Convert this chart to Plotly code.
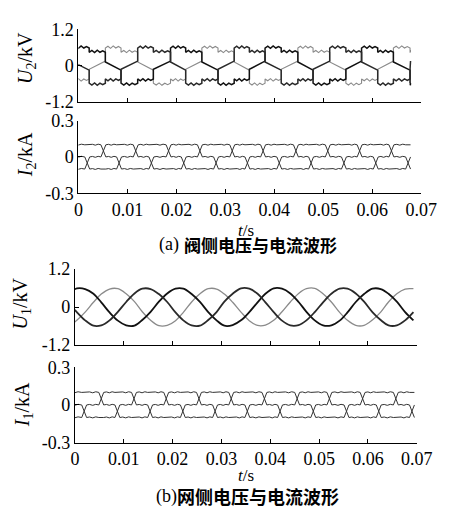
import plotly.graph_objects as go

# ---------------- values ----------------
x_ticks = [0, 0.01, 0.02, 0.03, 0.04, 0.05, 0.06, 0.07]
x_tick_labels = ["0", "0.01", "0.02", "0.03", "0.04", "0.05", "0.06", "0.07"]
u_ticks = [-1.2, 0, 1.2]
u_tick_labels = ["-1.2", "0", "1.2"]
i_ticks = [-0.3, 0, 0.3]
i_tick_labels = ["-0.3", "0", "0.3"]

# grid-side phase voltages U1 (kV), sampled along the curves
u1_t = [0.0, 0.0004, 0.0021, 0.0038, 0.0054, 0.0071, 0.0088, 0.0105, 0.0122, 0.0138, 0.0155,
        0.0172, 0.0189, 0.0206, 0.0222, 0.0239, 0.0256, 0.0273, 0.0290, 0.0306, 0.0323, 0.0340,
        0.0357, 0.0374, 0.0390, 0.0407, 0.0424, 0.0441, 0.0458, 0.0474, 0.0491, 0.0508, 0.0525,
        0.0542, 0.0558, 0.0575, 0.0592, 0.0609, 0.0626, 0.0642, 0.0659, 0.0676, 0.0693]
u1_a = [0.56,
        0.59, 0.57, 0.42, 0.15, -0.17, -0.43, -0.58, -0.59, -0.41, -0.15, 0.17, 0.43,
        0.58, 0.58, 0.41, 0.16, -0.16, -0.42, -0.59, -0.57, -0.42, -0.16, 0.15, 0.42,
        0.59, 0.58, 0.43, 0.16, -0.15, -0.42, -0.58, -0.58, -0.43, -0.17, 0.16, 0.41,
        0.58, 0.57, 0.42, 0.17, -0.16, -0.42]
u1_b = [-0.47,
        -0.42, -0.16, 0.15, 0.41, 0.57, 0.58, 0.42, 0.17, -0.15, -0.42, -0.59, -0.58,
        -0.43, -0.17, 0.16, 0.42, 0.58, 0.57, 0.41, 0.15, -0.16, -0.43, -0.58, -0.57,
        -0.42, -0.15, 0.16, 0.43, 0.58, 0.59, 0.42, 0.16, -0.17, -0.42, -0.58, -0.58,
        -0.41, -0.16, 0.16, 0.42, 0.57, 0.58]
u1_c = [-0.09,
        -0.16, -0.42, -0.59, -0.58, -0.42, -0.15, 0.16, 0.43, 0.58, 0.57, 0.41, 0.16,
        -0.17, -0.42, -0.58, -0.59, -0.41, -0.16, 0.17, 0.42, 0.59, 0.58, 0.42, 0.15,
        -0.16, -0.43, -0.58, -0.57, -0.42, -0.16, 0.15, 0.42, 0.58, 0.58, 0.43, 0.17,
        -0.16, -0.41, -0.58, -0.58, -0.42, -0.16]

# commutation instants (s), read at the X crossings of the current traces
i2_switch_t = [0.0018, 0.0051, 0.0083, 0.0117, 0.0149, 0.0184, 0.0215, 0.0248, 0.0281, 0.0314,
               0.0345, 0.0377, 0.0410, 0.0444, 0.0475, 0.0509, 0.0542, 0.0574, 0.0607, 0.0639,
               0.0673]
i2_end = 0.0678
i1_switch_t = [0.0019, 0.0054, 0.0087, 0.0121, 0.0154, 0.0187, 0.0221, 0.0254, 0.0287, 0.0320,
               0.0353, 0.0388, 0.0420, 0.0455, 0.0488, 0.0521, 0.0556, 0.0589, 0.0622, 0.0657,
               0.0690]
i1_end = 0.0694

# current block level (kA), half width of the X ramps (s), wiggle on the flats (kA)
i_level = 0.1
i_ramp = 0.0005
i_ripple = [0.004, -0.003, 0.005]

# valve-side voltage U2 levels (kV)
u2_hi = 0.58
u2_lo = 0.44
u2_float = [0.12, -0.15]
u2_ripple = [0.06, -0.01, 0.07, 0.0, 0.05]
u2_lag = 0.0004

# state of phase a in successive 60-degree sectors (b, c follow 2 and 4 sectors later)
sector_state = ["+hi", "+lo", "f", "-hi", "-lo", "r"]

# ---------------- building the traces ----------------
W, H = 450, 517


def bounds_from(switch_t, t_end, lag=0.0):
    s = [t + lag for t in switch_t]
    return [s[0] - (s[1] - s[0])] + s + [t_end]


def build_current(switch_t, t_end, shift):
    b = bounds_from(switch_t, t_end)
    n = len(b) - 1
    lv = {"+hi": i_level, "+lo": i_level, "-hi": -i_level, "-lo": -i_level, "f": 0.0, "r": 0.0}
    xs, ys = [], []
    for k in range(n):
        L = lv[sector_state[(k - shift) % 6]]
        a0 = b[k] + (i_ramp if k > 0 else 0)
        a1 = b[k + 1] - (i_ramp if k < n - 1 else 0)
        xs.append(a0); ys.append(L)
        if a1 > a0:
            for f, d in zip([0.25, 0.5, 0.75], i_ripple):
                xs.append(a0 + (a1 - a0) * f); ys.append(L + d)
            xs.append(a1); ys.append(L)
    return xs, ys


def build_u2(shift):
    b = bounds_from(i2_switch_t, i2_end, u2_lag)
    n = len(b) - 1
    xs, ys = [], []
    for k in range(n):
        st = sector_state[(k - shift) % 6]
        t0, t1 = b[k], b[k + 1]
        if st in ("f", "r"):
            sg = 1 if st == "f" else -1
            xs += [t0, t1]
            ys += [sg * u2_float[0], sg * u2_float[1]]
        else:
            sg = 1 if st[0] == "+" else -1
            L = sg * (u2_hi if st[1:] == "hi" else u2_lo)
            xs.append(t0); ys.append(L)
            fr = [1 / 6, 2 / 6, 3 / 6, 4 / 6, 5 / 6]
            for f, d in zip(fr, u2_ripple):
                xs.append(t0 + (t1 - t0) * f); ys.append(L + sg * d)
            xs.append(t1); ys.append(L)
    return xs, ys


BLACK = "#111111"
DARK = "#2a2a2a"
GRAY = "#8a8a8a"
CUR = "#333333"

fig = go.Figure()


def add(x, y, ax, color, width, shape="linear"):
    fig.add_trace(go.Scatter(x=x, y=y, mode="lines", xaxis="x" + ax, yaxis="y" + ax,
                             line=dict(color=color, width=width, shape=shape),
                             showlegend=False, hoverinfo="skip"))


# panel (a): U2
for shift, col, w in [(2, GRAY, 1.1), (0, BLACK, 1.5), (4, DARK, 1.5)]:
    x, y = build_u2(shift)
    add(x, y, "", col, w)
# panel (a): I2
for shift in [2, 0, 4]:
    x, y = build_current(i2_switch_t, i2_end, shift)
    add(x, y, "2", CUR, 1.0)
# panel (b): U1
add(u1_t, u1_b, "3", GRAY, 1.3, "spline")
add(u1_t, u1_a, "3", BLACK, 1.8, "spline")
add(u1_t, u1_c, "3", DARK, 1.8, "spline")
# panel (b): I1
for shift in [2, 0, 4]:
    x, y = build_current(i1_switch_t, i1_end, shift)
    add(x, y, "4", CUR, 1.0)


def fx(px):
    return px / W


def fy(py):
    return 1 - py / H


tickfont = dict(family="Liberation Serif", size=18, color="black")


def xaxis(dom, anchor, labels):
    return dict(domain=dom, anchor=anchor, range=[0, 0.07], tickmode="array", tickvals=x_ticks,
                ticktext=x_tick_labels, showticklabels=labels, ticks="inside", ticklen=4,
                tickcolor="black", tickwidth=1, showline=True, linecolor="black", linewidth=1,
                showgrid=False, zeroline=False, tickfont=tickfont, fixedrange=True)


def yaxis(dom, anchor, rng, tv, tt):
    return dict(domain=dom, anchor=anchor, range=rng, tickmode="array", tickvals=tv, ticktext=tt,
                ticks="inside", ticklen=4, tickcolor="black", tickwidth=1, showline=True,
                linecolor="black", linewidth=1, showgrid=False, zeroline=False,
                tickfont=tickfont, fixedrange=True)


top_x = [fx(77), fx(436.7)]
bot_x = [fx(73.3), fx(432)]
fig.update_layout(
    width=W, height=H, margin=dict(l=0, r=0, t=0, b=0), autosize=False,
    paper_bgcolor="white", plot_bgcolor="white",
    xaxis=xaxis(top_x, "y", False),
    yaxis=yaxis([fy(95.7), fy(20)], "x", [-1.2, 1.2], u_ticks, u_tick_labels),
    xaxis2=xaxis(top_x, "y2", True),
    yaxis2=yaxis([fy(190.7), fy(115)], "x2", [-0.3, 0.3], i_ticks, i_tick_labels),
    xaxis3=xaxis(bot_x, "y3", False),
    yaxis3=yaxis([fy(348.5), fy(269.5)], "x3", [-1.2, 1.2], u_ticks, u_tick_labels),
    xaxis4=xaxis(bot_x, "y4", True),
    yaxis4=yaxis([fy(450), fy(371.7)], "x4", [-0.3, 0.3], i_ticks, i_tick_labels),
)

serif = "Liberation Serif"
cjk = "Noto Sans CJK SC"
ann = [
    (22, 50, "<i>U</i><sub>2</sub>/kV", serif, 20, -90),
    (22, 150, "<i>I</i><sub>2</sub>/kA", serif, 20, -90),
    (17, 305, "<i>U</i><sub>1</sub>/kV", serif, 20, -90),
    (19, 411, "<i>I</i><sub>1</sub>/kA", serif, 20, -90),
    (253, 229, "<i>t</i>/s", serif, 17, 0),
    (253, 484, "<i>t</i>/s", serif, 17, 0),
    (172, 244, "(a)", serif, 18, 0),
    (268, 244, "<b>阀侧电压与电流波形</b>", cjk, 17, 0),
    (169, 506, "(b)", serif, 18, 0),
    (265, 506, "<b>网侧电压与电流波形</b>", cjk, 18, 0),
]
for x, y, txt, fam, size, ang in ann:
    fig.add_annotation(x=fx(x), y=fy(y), xref="paper", yref="paper", text=txt, showarrow=False,
                       xanchor="center", yanchor="middle", textangle=ang,
                       font=dict(family=fam, size=size, color="black"))

fig.write_html("out.html", config={"responsive": False, "displayModeBar": False},
               post_script="document.body.style.margin='0px';")
